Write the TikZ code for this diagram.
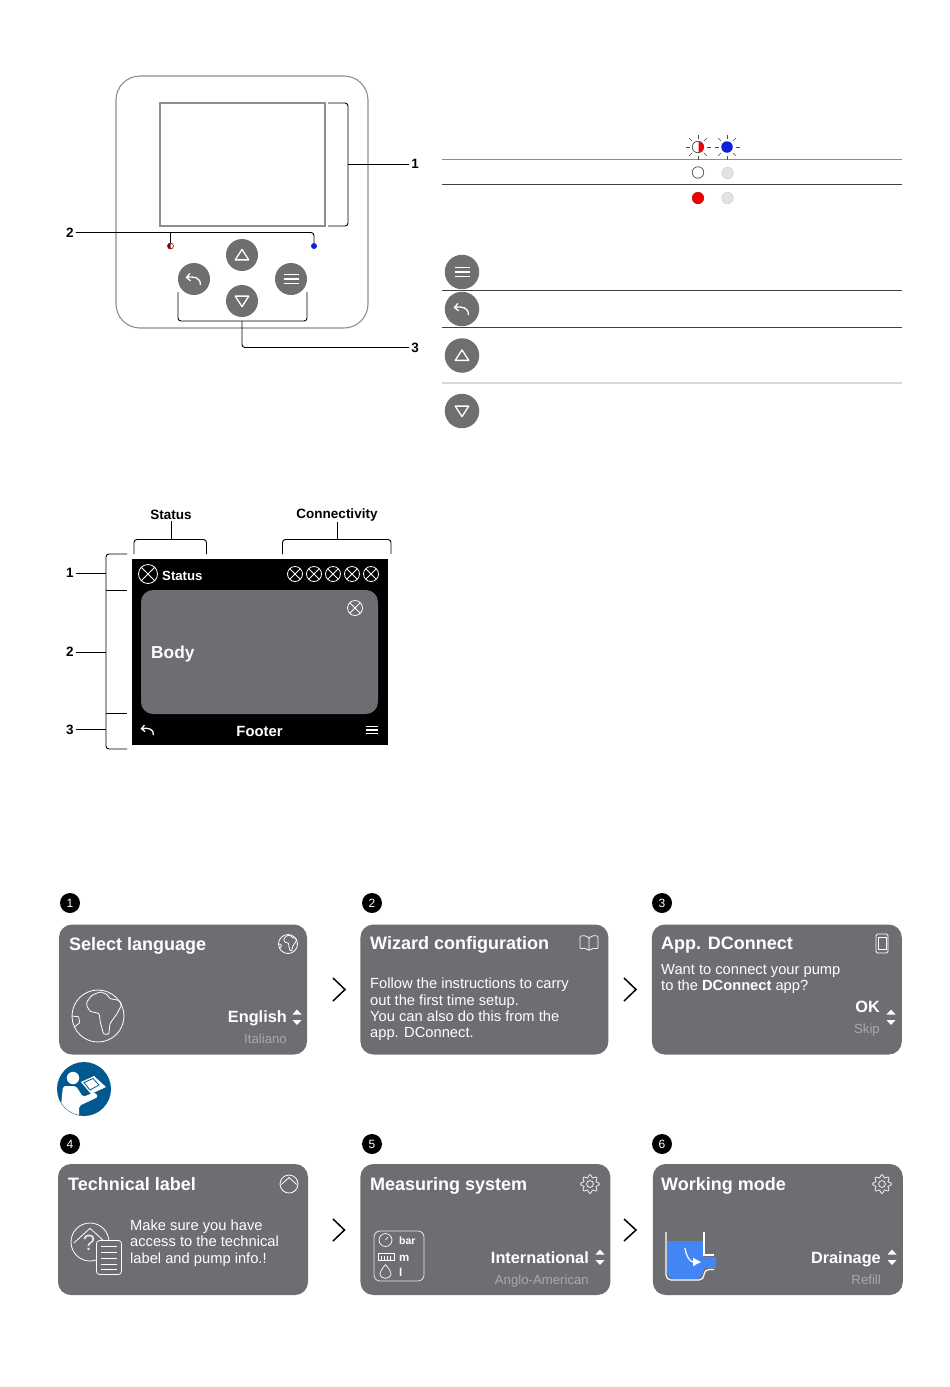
\documentclass[tikz,border=0pt]{standalone}
\usepackage{fontspec}
\setmainfont{Liberation Sans}
\usetikzlibrary{positioning, arrows.meta}
\definecolor{btngray}{HTML}{6F6F6F}
\definecolor{cardgray}{HTML}{6D6E71}
\definecolor{subgray}{HTML}{A7A9AC}
\definecolor{rimgray}{HTML}{8E8E8E}
\definecolor{offgray}{HTML}{E3E3E3}
\definecolor{manblue}{HTML}{005A8F}
\definecolor{tankblue}{HTML}{4285F4}
\definecolor{ledred}{HTML}{F00000}
\definecolor{ledblue}{HTML}{0A1FE0}
\newcommand{\fs}[1]{\fontsize{#1}{#1}\selectfont}
\tikzset{
  pics/menuicon/.style={code={\draw[white,line width=1.1] (-1,-.6)--(1,-.6) (-1,0)--(1,0) (-1,.6)--(1,.6);}},
  pics/backicon/.style={code={\draw[white,line width=1.3] (-.55,-.75)--(-1,-.2)--(-.45,.25) (-1,-.2) .. controls (0,-.4) and (.9,-.2) .. (.85,.8);}},
  pics/upicon/.style={code={\draw[white,line width=1.3,line join=round] (-.9,.65)--(0,-.75)--(.9,.65)--cycle;}},
  pics/downicon/.style={code={\draw[white,line width=1.3,line join=round] (-.9,-.65)--(0,.75)--(.9,-.65)--cycle;}},
  pics/xicon/.style={code={\draw[white,line width=.8] (0,0) circle (1) (-.7,-.7)--(.7,.7) (-.7,.7)--(.7,-.7);}},
  pics/updown/.style={code={\fill[white] (-4.5,-2)--(0,-7)--(4.5,-2)--cycle;
      \fill[white] (-4.5,3.5)--(0,8.5)--(4.5,3.5)--cycle;}},
  pics/globeicon/.style={code={\draw[white,line width=.8] (0,0) circle (1);
      \draw[white,line width=.8,line join=round] plot[smooth cycle,tension=.35] coordinates {(-.42,-.54) (-.23,-.79) (.09,-.92) (.35,-.82) (.47,-.67) (.79,-.6) (.9,-.44) (.73,-.09) (.47,.29) (.41,.68) (.22,.68) (.09,.23) (.03,-.09) (-.29,-.18) (-.42,-.37)};
      \draw[white,line width=.8] (-1,0) -- (-.75,.03) -- (-.7,.25) -- (-.9,.42);}},
  pics/gearicon/.style={code={\draw[white,line width=.7] (0,0) circle (.36);
      \draw[white,line width=.7] plot[smooth cycle,domain=0:352.5,samples=48,variable=\t] ({cos(\t)*(.84+.16*cos(8*\t))},{sin(\t)*(.84+.16*cos(8*\t))});}},
  pics/bookicon/.style={code={\draw[white,line width=.7,rounded corners=1] (0,-.55) .. controls (-.3,-.85) and (-.7,-.85) .. (-1,-.75) -- (-1,.65) .. controls (-.7,.55) and (-.3,.55) .. (0,.85) .. controls (.3,.55) and (.7,.55) .. (1,.65) -- (1,-.75) .. controls (.7,-.85) and (.3,-.85) .. (0,-.55) -- (0,.85);}},
  pics/hexicon/.style={code={\draw[white,line width=.8] (0,0) circle (1);
      \draw[white,line width=.8] (-.85,.05) -- (0,-.72) -- (.85,.05);}}
}
\begin{document}
\begin{tikzpicture}[x=1pt, y=-1pt,
    btn/.style={circle, fill=btngray, minimum size=32pt, inner sep=0pt},
    btnb/.style={circle, fill=btngray, minimum size=34.5pt, inner sep=0pt},
    ln/.style={draw=black, line width=.9pt, rounded corners=3pt},
    num/.style={font=\bfseries\fs{13.5}, text=black, inner sep=2pt},
    hd/.style={font=\bfseries\fs{13.5}, text=black, inner sep=1pt},
    rule/.style={draw=#1, line width=1pt},
    led/.style={circle, minimum size=11.5pt, inner sep=0pt},
    card/.style={fill=cardgray, rounded corners=13pt, minimum width=248pt, minimum height=130pt, inner sep=0pt},
    badge/.style={circle, fill=black, text=white, font=\fs{12}, minimum size=20pt, inner sep=0pt},
    ttl/.style={font=\bfseries\fs{18}, text=white, inner sep=0pt, anchor=base west},
    txt/.style={font=\fontsize{14.7}{16.4}\selectfont, text=white, inner sep=0pt, align=left},
    sel/.style={font=\bfseries\fs{16.3}, text=white, inner sep=0pt, anchor=base east},
    alt/.style={font=\fs{13.2}, text=subgray, inner sep=0pt, anchor=base east},
    chev/.style={draw=black, line width=1.5pt, miter limit=10}]
  \useasboundingbox (0,0) rectangle (950,1387);
  % device
  \draw[draw=rimgray, line width=1.1pt, rounded corners=24pt] (116,76) rectangle (368,328);
  \node[draw=rimgray, line width=1.6pt, minimum width=165pt, minimum height=123pt, inner sep=0pt] (disp) at (242.5,164.5) {};
  \node[btn] (up) at (242,255) {};
  \node[btn] (bk) at (194,279) {};
  \node[btn] (mn) at (291,279) {};
  \node[btn] (dn) at (242,301) {};
  \pic[scale=7.5] at (up) {upicon};
  \pic[scale=7.5] at (bk) {backicon};
  \pic[scale=7.5] at (mn) {menuicon};
  \pic[scale=7.5] at (dn) {downicon};
  \node[circle, fill=ledblue, minimum size=6pt, inner sep=0pt] (ledb) at (314,246) {};
  \node[circle, draw=red!50!black, fill=white, minimum size=6pt, inner sep=0pt, line width=.6pt] (ledr) at (170.5,246) {};
  \fill[red!50!black] (170.5,243) arc (-90:-270:3) -- cycle;
  \node[num] (n1) at (415,164) {1};
  \node[num] (n2) at (70,232.5) {2};
  \node[num] (n3) at (415,347.5) {3};
  \coordinate (b1) at (348,164);
  \coordinate (b3) at (242,321);
  \draw[ln] (328,103) -- (348,103) -- (348,226) -- (328,226);
  \draw[ln] (178,292) -- (178,321) -- (307,321) -- (307,292);
  \draw[ln] (n1) -- (b1);
  \draw[ln] (n2) -| (ledb);
  \draw[ln] (n2 -| ledr) -- (ledr);
  \draw[ln] (n3) -| (b3);
  % led table
  \draw[rule=rimgray] (442,159) -- (902,159);
  \draw[rule=black!75] (442,184.5) -- (902,184.5);
  \node[led, draw=black!70, fill=white, line width=.7pt] (l1) at (698,147) {};
  \fill[ledred] (698.5,141.5) arc (-90:90:5.5) -- cycle;
  \node[led, fill=ledblue] (l2) at (727,147) {};
  \foreach \c in {698,727}
    \foreach \a in {0,45,...,315}
      \draw[black!70, line width=.6pt] (\c,147) ++(\a:8.5) -- ++(\a:4);
  \node[led, draw=black!70, fill=white, line width=.7pt] (l3) at (698,172.5) {};
  \node[led, fill=offgray, draw=offgray!90!black, line width=.5pt] (l4) at (727.5,173) {};
  \node[led, fill=ledred, draw=red!70!black, line width=.5pt] (l5) at (698,198) {};
  \node[led, fill=offgray, draw=offgray!90!black, line width=.5pt] (l6) at (727.5,198) {};
  % button table
  \draw[rule=black!75] (442,290.5) -- (902,290.5);
  \draw[rule=black!75] (442,327.5) -- (902,327.5);
  \draw[draw=offgray!95!black, line width=1.3pt] (442,383) -- (902,383);
  \node[btnb] (m1) at (462,272) {};
  \node[btnb] (m2) at (462,309) {};
  \node[btnb] (m3) at (462,355.5) {};
  \node[btnb] (m4) at (462,411) {};
  \pic[scale=7.5] at (m1) {menuicon};
  \pic[scale=7.5] at (m2) {backicon};
  \pic[scale=7.5] at (m3) {upicon};
  \pic[scale=7.5] at (m4) {downicon};
  % screen layout
  \node[fill=black, minimum width=256pt, minimum height=186pt, inner sep=0pt] (scr) at (259.5,652) {};
  \node[fill=cardgray, rounded corners=12pt, minimum width=237pt, minimum height=124pt, inner sep=0pt] (bdy) at (259.5,652) {};
  \pic[scale=9.5] at (148,574) {xicon};
  \foreach \x in {295,314,333,352,371}
    \pic[scale=7.5] at (\x,574) {xicon};
  \pic[scale=7.5] at (355,608) {xicon};
  \pic[scale=6.5] at (148,730) {backicon};
  \pic[scale=6] at (371.5,730) {menuicon};
  \node[font=\bfseries\fs{13.2}, text=white, inner sep=0pt, anchor=base west] (sts) at (162,580) {Status};
  \node[font=\bfseries\fs{17.3}, text=white, inner sep=0pt, anchor=base west] (bod) at (151,658) {Body};
  \node[font=\bfseries\fs{14.8}, text=white, inner sep=0pt, anchor=base] (ftr) at (259.5,736.5) {Footer};
  \node[hd] (hs) at (171,515) {Status};
  \node[hd] (hc) at (337,515) {Connectivity};
  \coordinate (bs) at (171,539);
  \coordinate (bc) at (337,539);
  \draw[ln] (134,554) -- (134,539.5) -- (206.5,539.5) -- (206.5,554);
  \draw[ln] (282.5,554) -- (282.5,539.5) -- (391,539.5) -- (391,554);
  \draw[ln] (hs) -- (bs);
  \draw[ln] (hc) -- (bc);
  \node[num] (s1) at (70,573) {1};
  \node[num] (s2) at (70,652) {2};
  \node[num] (s3) at (70,729.5) {3};
  \coordinate (t1) at (106,573);
  \coordinate (t2) at (106,652);
  \coordinate (t3) at (106,729.5);
  \draw[ln] (127,554) -- (106,554) -- (106,749) -- (127,749);
  \draw[ln] (106,590) -- (127,590);
  \draw[ln] (106,713) -- (127,713);
  \draw[ln] (s1) -- (t1);
  \draw[ln] (s2) -- (t2);
  \draw[ln] (s3) -- (t3);
  % first row
  \node[card] (c1) at (183,989.5) {};
  \node[card, right=53pt of c1] (c2) {};
  \node[card, right=43pt of c2, minimum width=250pt] (c3) {};
  \node[badge] (p1) at (70,903) {1};
  \node[badge] (p2) at (372,903) {2};
  \node[badge] (p3) at (662,903) {3};
  \draw[chev] (333,978) -- (345,989.5) -- (333,1001);
  \draw[chev] (624,978) -- (636,989.5) -- (624,1001);
  \node[ttl] (t11) at (69,950) {Select language};
  \pic[scale=9.5] at (288,944) {globeicon};
  \pic[scale=26] at (98,1016) {globeicon};
  \node[sel] (s11) at (287,1022) {English};
  \node[alt] (a11) at (287,1043.5) {Italiano};
  \pic at (297,1016.5) {updown};
  \node[ttl] (t12) at (370,949) {Wizard configuration};
  \pic[scale=9] at (589,943) {bookicon};
  \node[txt, anchor=west] (x12) at (370,1009.5) {Follow the instructions to carry\\out the first time setup.\\You can also do this from the\\app. DConnect.};
  \node[ttl] (t13) at (661,949) {App. DConnect};
  \draw[white, line width=.8pt, rounded corners=1.5pt] (876,934) rectangle (888,953);
  \draw[white, line width=.7pt] (878,937) rectangle (886,949);
  \node[txt, anchor=west] (x13) at (661,979) {Want to connect your pump\\to the \textbf{DConnect} app?};
  \node[sel] (s13) at (880,1012) {OK};
  \node[alt] (a13) at (880,1033.5) {Skip};
  \pic at (891,1016.5) {updown};
  % manual icon
  \node[circle, fill=manblue, minimum size=54pt, inner sep=0pt] (man) at (84,1089) {};
  \begin{scope}[shift={(84,1089)}]
    \clip (0,0) circle (26.5);
    \fill[white] (-11,-11) circle (6.2);
    \fill[white, rounded corners=2pt] (-21,-3) -- (-8,-3) -- (-1,8) -- (11,3) -- (14,8) -- (-5,17) -- (-5,27) -- (-24,27) -- cycle;
    \fill[white] (-3,-7) -- (10,-13) -- (22,-2) -- (7,5) -- cycle;
    \draw[manblue, line width=.8pt] (0,-6.5) -- (9,-10.5) -- (15,-4) -- (6,1) -- cycle;
  \end{scope}
  % second row
  \node[card, minimum width=250pt, minimum height=131pt] (c4) at (183,1229.5) {};
  \node[card, minimum width=250pt, minimum height=131pt, right=52pt of c4] (c5) {};
  \node[card, minimum width=250pt, minimum height=131pt, right=42pt of c5] (c6) {};
  \node[badge] (p4) at (70,1144) {4};
  \node[badge] (p5) at (372,1144) {5};
  \node[badge] (p6) at (662,1144) {6};
  \draw[chev] (333,1219) -- (344.5,1230) -- (333,1241);
  \draw[chev] (624,1219) -- (636,1230) -- (624,1241);
  \node[ttl] (t21) at (68,1190) {Technical label};
  \pic[scale=9] at (289,1184) {hexicon};
  \pic[scale=19] at (90,1242) {hexicon};
  \node[font=\fs{22}, text=white!85!cardgray, inner sep=0pt] (qm) at (89,1243) {?};
  \node[draw=white, fill=cardgray, line width=.8pt, rounded corners=3pt, minimum width=25pt, minimum height=34pt, inner sep=0pt] (doc) at (109,1257.5) {};
  \foreach \y in {1246,1252,1258,1264,1269}
    \draw[white, line width=.8pt] (101,\y) -- (117,\y);
  \node[txt, anchor=west] (x21) at (130,1243) {Make sure you have\\access to the technical\\label and pump info.!};
  \node[ttl] (t22) at (370,1190) {Measuring system};
  \pic[scale=9.5] at (590,1184) {gearicon};
  \node[draw=white!85!cardgray, line width=.8pt, rounded corners=6pt, minimum width=50pt, minimum height=50pt, inner sep=0pt] (ubox) at (399,1256) {};
  \draw[white, line width=.7pt] (385.5,1240) circle (6.5) (385.5,1240) -- (388,1237);
  \draw[white, line width=.7pt] (378,1253) rectangle (394,1260);
  \foreach \x in {381,384,387,390}
    \draw[white, line width=.5pt] (\x,1256) -- (\x,1260);
  \draw[white, line width=.7pt] (385.5,1264.5) .. controls (381,1270) and (380,1272) .. (380,1273.5) .. controls (380,1280) and (391,1280) .. (391,1273.5) .. controls (391,1272) and (390,1270) .. (385.5,1264.5);
  \node[font=\bfseries\fs{10.5}, text=white, inner sep=0pt, anchor=base west] (u1) at (399,1244) {bar};
  \node[font=\bfseries\fs{11.5}, text=white, inner sep=0pt, anchor=base west] (u2) at (399,1261) {m};
  \node[font=\bfseries\fs{11.5}, text=white, inner sep=0pt, anchor=base west] (u3) at (399,1276) {l};
  \node[sel] (s22) at (589,1263) {International};
  \node[alt] (a22) at (589,1284) {Anglo-American};
  \pic at (600,1256.5) {updown};
  \node[ttl] (t23) at (661,1190) {Working mode};
  \pic[scale=9.5] at (882,1184) {gearicon};
  \fill[tankblue] (667,1241) -- (704,1241) -- (704,1257) -- (716,1257) -- (716,1268) -- (704,1268) .. controls (703,1276) and (700,1279) .. (696,1279) -- (674,1279) .. controls (670,1279) and (667,1276) .. (667,1272) -- cycle;
  \draw[white, line width=1.2pt, rounded corners=5pt] (666,1232) -- (666,1280) -- (704,1280) -- (704,1269.5) -- (714,1269.5);
  \draw[white, line width=1.2pt] (704,1232) -- (704,1255) -- (714,1255);
  \draw[white, line width=1.2pt, -{Triangle[length=8pt,width=8pt]}] (685,1248) .. controls (686,1256) and (690,1262) .. (701,1262);
  \node[sel] (s23) at (881,1263) {Drainage};
  \node[alt] (a23) at (881,1284) {Refill};
  \pic at (892,1256.5) {updown};
\end{tikzpicture}
\end{document}
